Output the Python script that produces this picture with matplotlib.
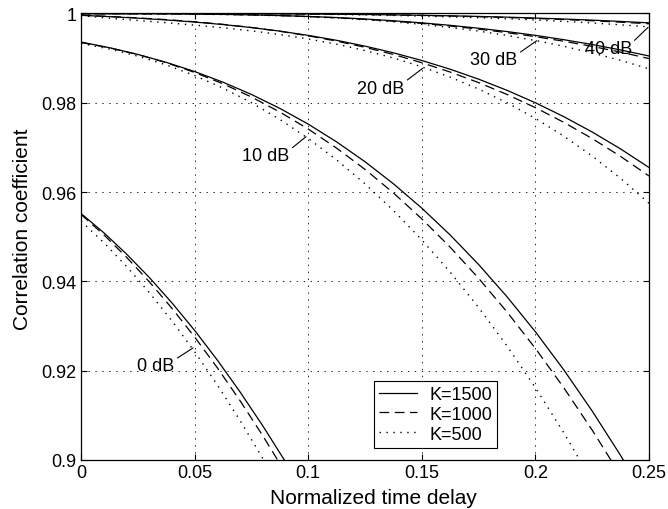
import matplotlib
matplotlib.use("Agg")
import matplotlib.pyplot as plt

plt.rcParams['font.family'] = ['Liberation Sans', 'DejaVu Sans']
plt.rcParams['lines.scale_dashes'] = False

# ---- data ----
tau_0db = [0, 0.01, 0.02, 0.03, 0.04, 0.05, 0.06, 0.07, 0.08, 0.09, 0.1]
db0_k1500 = [0.9552, 0.95091, 0.94614, 0.94091, 0.93520, 0.92902, 0.92237, 0.91524, 0.90765, 0.89958, 0.89104]
db0_k1000 = [0.9550, 0.95045, 0.94543, 0.93994, 0.93398, 0.92755, 0.92064, 0.91327, 0.90543, 0.89712, 0.88834]
db0_k500 = [0.9535, 0.94871, 0.94338, 0.93753, 0.93115, 0.92425, 0.91681, 0.90884, 0.90035, 0.89132, 0.88177]

tau = [0, 0.0125, 0.025, 0.0375, 0.05, 0.0625, 0.075, 0.0875, 0.1, 0.1125, 0.125,
       0.1375, 0.15, 0.1625, 0.175, 0.1875, 0.2, 0.2125, 0.225, 0.2375, 0.25]
db10_k1500 = [0.9936, 0.99234, 0.99083, 0.98906, 0.9870, 0.98461, 0.98187, 0.97875, 0.97522, 0.97124, 0.9668,
              0.96186, 0.9564, 0.95038, 0.94378, 0.93656, 0.92871, 0.92018, 0.91095, 0.9010, 0.89029]
db10_k1000 = [0.9935, 0.99231, 0.99081, 0.98898, 0.9868, 0.98425, 0.9813, 0.97793, 0.97412, 0.96984, 0.96508,
              0.95981, 0.9540, 0.94764, 0.94069, 0.93315, 0.92498, 0.91617, 0.90668, 0.8965, 0.88561]
db10_k500 = [0.9933, 0.99205, 0.99045, 0.98848, 0.9861, 0.98329, 0.98003, 0.97628, 0.97201, 0.96721, 0.96184,
             0.95588, 0.94929, 0.94206, 0.93415, 0.92554, 0.91619, 0.90609, 0.8952, 0.8835, 0.87095]

db20_k1500 = [0.9996, 0.99929, 0.99895, 0.99855, 0.99808, 0.99752, 0.99685, 0.99605, 0.9951, 0.99399, 0.99269,
              0.99119, 0.98947, 0.98751, 0.98529, 0.98279, 0.9800, 0.97689, 0.97345, 0.96966, 0.9655]
db20_k1000 = [0.9996, 0.99933, 0.99901, 0.99863, 0.99815, 0.99757, 0.99686, 0.99601, 0.9950, 0.99381, 0.99242,
              0.99082, 0.98897, 0.98688, 0.98452, 0.98186, 0.9789, 0.97561, 0.97198, 0.96798, 0.9636]
db20_k500 = [0.9995, 0.99895, 0.99844, 0.99793, 0.9974, 0.9968, 0.99611, 0.99529, 0.9943, 0.99312, 0.9917,
             0.99003, 0.98805, 0.98574, 0.98307, 0.9800, 0.9765, 0.97253, 0.96807, 0.96307, 0.9575]

db30_k1500 = [0.99995, 0.99995, 0.99994, 0.99992, 0.99987, 0.9998, 0.99969, 0.99954, 0.99934, 0.99909, 0.99877,
              0.99837, 0.9979, 0.99735, 0.9967, 0.99595, 0.9951, 0.99413, 0.99305, 0.99183, 0.99048]
db30_k1000 = [0.99995, 0.99995, 0.99994, 0.99992, 0.99987, 0.99979, 0.99968, 0.99952, 0.99931, 0.99903, 0.99869,
              0.99828, 0.99778, 0.99719, 0.9965, 0.99571, 0.99481, 0.99378, 0.99263, 0.99134, 0.9899]
db30_k500 = [0.9999, 0.9999, 0.99989, 0.99987, 0.99983, 0.99976, 0.99965, 0.99949, 0.99927, 0.99898, 0.99861,
             0.99814, 0.99756, 0.99687, 0.99605, 0.99508, 0.99395, 0.99265, 0.99117, 0.98949, 0.9876]

db40_k1500 = [1.0, 1.0, 1.0, 1.0, 0.99999, 0.99998, 0.99996, 0.99993, 0.99989, 0.99984, 0.99978,
              0.9997, 0.9996, 0.99948, 0.99934, 0.99918, 0.99898, 0.99876, 0.99851, 0.99822, 0.9979]
db40_k1000 = [1.0, 1.0, 1.0, 1.0, 0.99999, 0.99997, 0.99995, 0.99992, 0.99988, 0.99983, 0.99976,
              0.99967, 0.99956, 0.99943, 0.99928, 0.9991, 0.99889, 0.99864, 0.99837, 0.99805, 0.9977]
db40_k500 = [0.99999, 0.99999, 0.99999, 0.99998, 0.99997, 0.99996, 0.99993, 0.99989, 0.99984, 0.99977, 0.99968,
             0.99956, 0.99942, 0.99925, 0.99906, 0.99882, 0.99855, 0.99823, 0.99787, 0.99746, 0.99701]

legend_labels = ['K=1500', 'K=1000', 'K=500']
snr_labels = ['0 dB', '10 dB', '20 dB', '30 dB', '40 dB']
# label text position / pointer end (data coords)
snr_text_xy = [(0.0330, 0.9211), (0.0814, 0.9681), (0.1320, 0.9833), (0.1818, 0.98959), (0.2320, 0.99205)]
snr_point_xy = [(0.0493, 0.9251), (0.0990, 0.9724), (0.1504, 0.98773), (0.2006, 0.99391), (0.2496, 0.99691)]

xticks = [0, 0.05, 0.1, 0.15, 0.2, 0.25]
xticklabels = ['0', '0.05', '0.1', '0.15', '0.2', '0.25']
yticks = [0.9, 0.92, 0.94, 0.96, 0.98, 1.0]
yticklabels = ['0.9', '0.92', '0.94', '0.96', '0.98', '1']

# ---- plot ----
fig = plt.figure(figsize=(6.68, 5.10), dpi=100)
ax = fig.add_axes([0.1213, 0.0961, 0.8503, 0.8755])

lw = 0.9
styles = {
    'solid': dict(color='black', lw=lw, linestyle='-'),
    'dashed': dict(color='black', lw=lw, linestyle=(0, (7, 4))),
    'dotted': dict(color='black', lw=1.0, linestyle=(0, (1, 4))),
}

groups = [
    (tau_0db, db0_k1500, db0_k1000, db0_k500),
    (tau, db10_k1500, db10_k1000, db10_k500),
    (tau, db20_k1500, db20_k1000, db20_k500),
    (tau, db30_k1500, db30_k1000, db30_k500),
    (tau, db40_k1500, db40_k1000, db40_k500),
]
for i, (t, a, b, c) in enumerate(groups):
    ax.plot(t, a, label=legend_labels[0] if i == 0 else None, **styles['solid'])
    ax.plot(t, b, label=legend_labels[1] if i == 0 else None, **styles['dashed'])
    ax.plot(t, c, label=legend_labels[2] if i == 0 else None, **styles['dotted'])

for lab, txy, pxy in zip(snr_labels, snr_text_xy, snr_point_xy):
    ax.annotate(lab, xy=pxy, xytext=txy, ha='center', va='center', fontsize=13,
                arrowprops=dict(arrowstyle='-', color='black', lw=0.8,
                                shrinkA=0, shrinkB=0, relpos=(1.0, 0.85)))

ax.set_xlim(0, 0.25)
ax.set_ylim(0.9, 1.0)
ax.set_xticks(xticks)
ax.set_xticklabels(xticklabels)
ax.set_yticks(yticks)
ax.set_yticklabels(yticklabels)
ax.tick_params(direction='in', top=True, right=True, length=4, width=0.8, labelsize=13)
ax.tick_params(axis='x', pad=2.8)
ax.tick_params(axis='y', pad=3.5)
ax.grid(True, color='black', linestyle=(0, (1, 4)), linewidth=0.6)
for s in ax.spines.values():
    s.set_linewidth(0.9)

ax.set_xlabel('Normalized time delay', fontsize=15)
ax.set_ylabel('Correlation coefficient', fontsize=15)
ax.xaxis.set_label_coords(0.515, -0.062)
ax.yaxis.set_label_coords(-0.087, 0.52)

leg = ax.legend(loc='lower right', bbox_to_anchor=(0.733, 0.027), borderaxespad=0,
                fancybox=False, edgecolor='black', framealpha=1, fontsize=13,
                handlelength=2.1, handletextpad=0.65, borderpad=0.3, labelspacing=0.15)
leg.get_frame().set_linewidth(0.8)

fig.savefig('out.png', dpi=100)
